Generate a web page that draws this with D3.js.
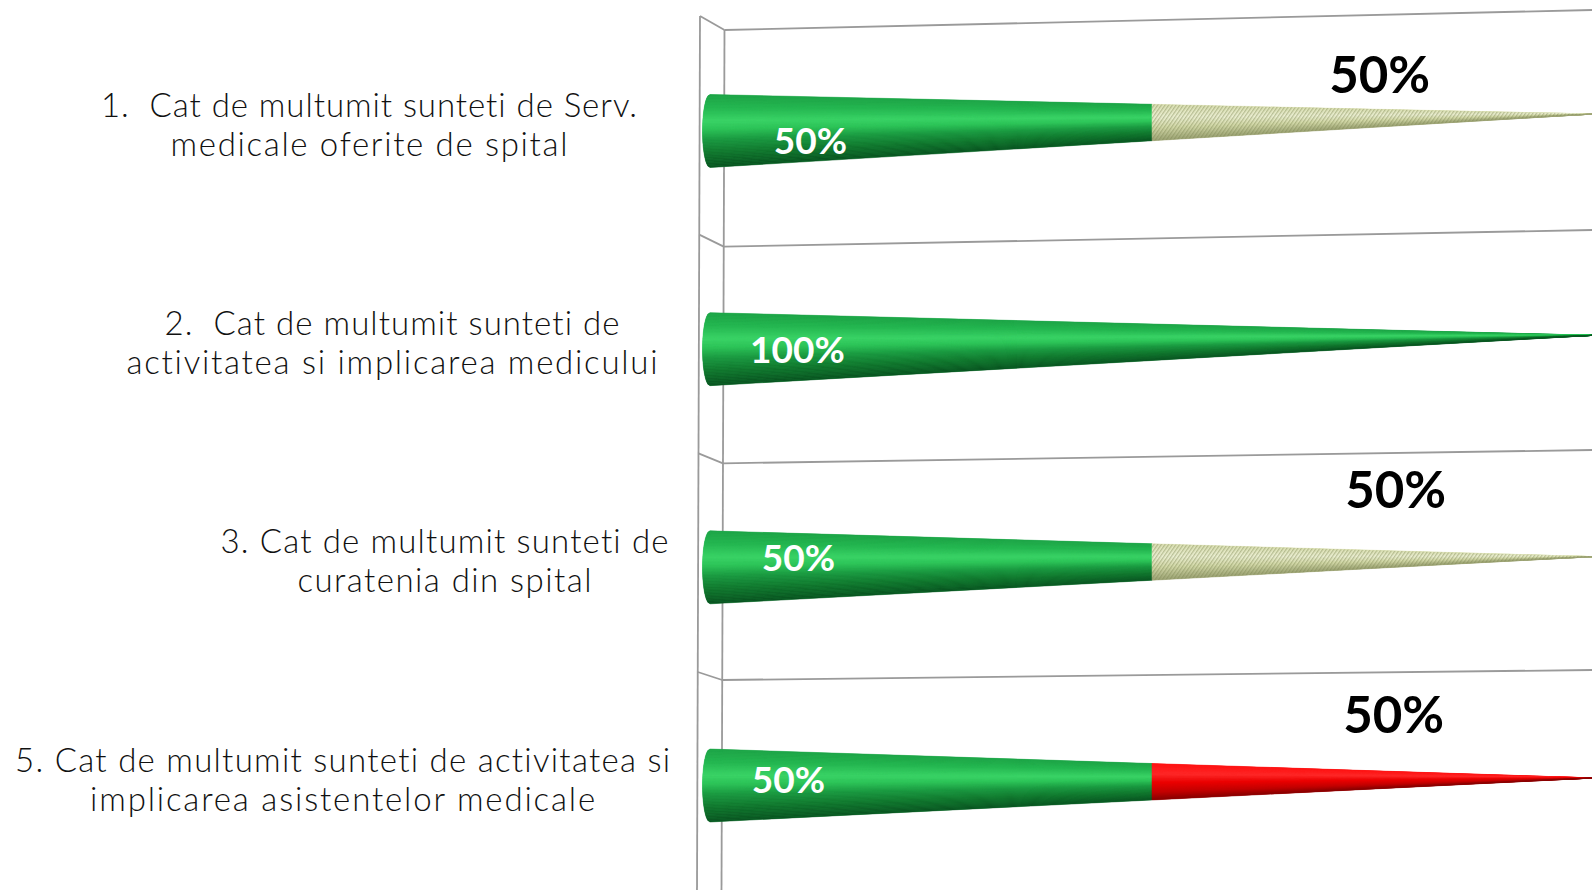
<!DOCTYPE html>
<html><head><meta charset="utf-8">
<script src="https://cdn.jsdelivr.net/npm/d3@7"></script>
<style>html,body{margin:0;padding:0;background:#fff;overflow:hidden} text{font-variant-ligatures:none;font-feature-settings:"liga" 0,"clig" 0;}</style>
</head><body>
<svg id="chart" width="1592" height="890"></svg>
<script>
// ---------------- data ----------------
const categoryLines = [
  ["1.  Cat de multumit sunteti de Serv.", "medicale oferite de spital"],
  ["2.  Cat de multumit sunteti de", "activitatea si implicarea medicului"],
  ["3. Cat de multumit sunteti de", "curatenia din spital"],
  ["5. Cat de multumit sunteti de activitatea si", "implicarea asistentelor medicale"]
];
const seriesKeys = ["foarte", "partial", "nemultumit"];
const seriesFoarte = [50, 100, 50, 50];
const seriesPartial = [50, 0, 50, 0];
const seriesNemultumit = [0, 0, 0, 50];
const valueDomain = [0, 100];

// ---------------- layout (not data) ----------------
const W = 1592, H = 890;
const labelCenterX = [369, 392, 444.5, 342.6];
const labelWidths = [[536, 397], [455, 531], [448, 294], [655, 505]];
const innerDx = [12, -1, 0, -10], innerDy = [25, 15, 5, 8];
const outerDx = [-11, 0, 5, 3], outerDy = [-25, -50, -51, -47];

const svg = d3.select("#chart");
const defs = svg.append("defs");

const x = d3.scaleLinear().domain(valueDomain).range([710, 1594]);
const n = categoryLines.length;
const yBase = d3.scaleLinear().domain([0, n - 1]).range([131, 785.5]);
const yTip = d3.scaleLinear().domain([0, n - 1]).range([114, 778]);
const R = 36.5, capRx = 7.5;

// wall / gridlines
const gridFront = d3.scaleLinear().domain([0, n - 1]).range([16, 672]);
const gridBack = d3.scaleLinear().domain([0, n - 1]).range([30, 680]);
const gridRight = d3.scaleLinear().domain([0, n - 1]).range([10, 670]);
const frontX = d3.scaleLinear().domain([16, H]).range([700, 697]);
const backX = d3.scaleLinear().domain([30, H]).range([724.5, 721.5]);
const gridColor = "#9a9a9a";
const g0 = svg.append("g").attr("fill", "none").attr("stroke", gridColor).attr("stroke-width", 1.8);
g0.append("line").attr("x1", frontX(16)).attr("y1", gridFront(0)).attr("x2", frontX(H)).attr("y2", H);
g0.append("line").attr("x1", backX(30)).attr("y1", gridBack(0)).attr("x2", backX(H)).attr("y2", H);
d3.range(n).forEach(k => {
  const yf = gridFront(k), yb = gridBack(k);
  g0.append("line").attr("x1", frontX(yf)).attr("y1", yf).attr("x2", backX(yb)).attr("y2", yb);
  g0.append("line").attr("x1", backX(yb)).attr("y1", yb).attr("x2", W).attr("y2", gridRight(k));
});

// hatch pattern
const pat = defs.append("pattern").attr("id", "hatch").attr("patternUnits", "userSpaceOnUse")
  .attr("width", 3).attr("height", 3).attr("patternTransform", "rotate(35)");
pat.append("line").attr("x1", 0.75).attr("y1", 0).attr("x2", 0.75).attr("y2", 3)
  .attr("stroke", "#7a8450").attr("stroke-width", 1.0);

const colorMaps = {
  foarte: d3.scaleLinear().domain([0, 0.18, 0.36, 0.48, 0.62, 0.8, 1])
    .range(["#1ea447", "#25b651", "#3bd467", "#2ec459", "#1c9a42", "#12772f", "#0a5421"]),
  partial: d3.scaleLinear().domain([0, 0.35, 0.65, 1])
    .range(["#dde3b6", "#f0f3d8", "#d5dbab", "#9ca374"]),
  nemultumit: d3.scaleLinear().domain([0, 0.3, 0.55, 0.8, 1])
    .range(["#ff1414", "#ff2a2a", "#e80000", "#c00000", "#860000"])
};

const table = d3.range(n).map(i => ({
  i, foarte: seriesFoarte[i], partial: seriesPartial[i], nemultumit: seriesNemultumit[i]
}));
const stacked = d3.stack().keys(seriesKeys)(table);

const u = v => (v - valueDomain[0]) / (valueDomain[1] - valueDomain[0]);
function geom(i) {
  return {
    cx: t => x(valueDomain[0] + t * (valueDomain[1] - valueDomain[0])),
    cy: t => yBase(i) + (yTip(i) - yBase(i)) * t,
    r: t => R * (1 - t)
  };
}

const N = 48;
const cones = svg.append("g");
stacked.forEach(series => {
  const key = series.key;
  series.forEach((d, i) => {
    if (d[1] - d[0] <= 0) return;
    const g = geom(i);
    const u0 = u(d[0]), u1 = u(d[1]);
    const Y = (uu, t) => g.cy(uu) - g.r(uu) + 2 * g.r(uu) * t;
    const leftX = t => u0 === 0 ? g.cx(0) - capRx * Math.sqrt(Math.max(0, 1 - (2 * t - 1) ** 2)) : g.cx(u0);
    const outline = [];
    d3.range(N + 1).forEach(k => outline.push([leftX(k / N), Y(u0, k / N)]));
    outline.push([g.cx(u1), Y(u1, 1)], [g.cx(u1), Y(u1, 0)]);
    const seg = cones.append("g");
    seg.append("path").attr("d", d3.line()(outline) + "Z").attr("fill", colorMaps[key](0.5));
    d3.range(N).forEach(k => {
      const t0 = k / N, t1 = (k + 1) / N, tm = (t0 + t1) / 2;
      const pts = [[leftX(t0), Y(u0, t0)], [g.cx(u1), Y(u1, t0)], [g.cx(u1), Y(u1, t1)], [leftX(t1), Y(u0, t1)]];
      const c = colorMaps[key](tm);
      seg.append("path").attr("d", d3.line()(pts) + "Z").attr("fill", c).attr("stroke", c).attr("stroke-width", 0.5);
    });
    if (key === "partial") {
      seg.append("path").attr("d", d3.line()(outline) + "Z").attr("fill", "url(#hatch)").attr("opacity", 0.6);
    }
  });
});

// inner (white) labels for first series
const labels = svg.append("g").attr("font-family", "Lato, 'Open Sans', sans-serif").attr("font-weight", 700);
seriesFoarte.forEach((v, i) => {
  if (v <= 0) return;
  const g = geom(i), uu = u(10);
  labels.append("text").attr("x", x(10) + innerDx[i]).attr("y", g.cy(uu) + innerDy[i])
    .attr("text-anchor", "middle").attr("font-size", 37).attr("fill", "#ffffff").text(v + "%");
});
// outer (black) labels for second segment
table.forEach((row, i) => {
  const v = row.partial + row.nemultumit;
  if (v <= 0) return;
  const g = geom(i), uu = u(77);
  labels.append("text").attr("x", x(77) + outerDx[i]).attr("y", g.cy(uu) + outerDy[i])
    .attr("text-anchor", "middle").attr("font-size", 51).attr("fill", "#000000").text(v + "%");
});

// category labels
const cat = svg.append("g").attr("font-family", "Lato, 'Open Sans', sans-serif").attr("font-weight", 300)
  .attr("font-size", 33).attr("fill", "#111");
categoryLines.forEach((lines, i) => {
  lines.forEach((ln, j) => {
    cat.append("text").attr("x", labelCenterX[i]).attr("y", yBase(i) - 14 + j * 39)
      .attr("text-anchor", "middle").attr("textLength", labelWidths[i][j]).attr("lengthAdjust", "spacing")
      .attr("xml:space", "preserve").style("white-space", "pre").text(ln);
  });
});
</script>
</body></html>
